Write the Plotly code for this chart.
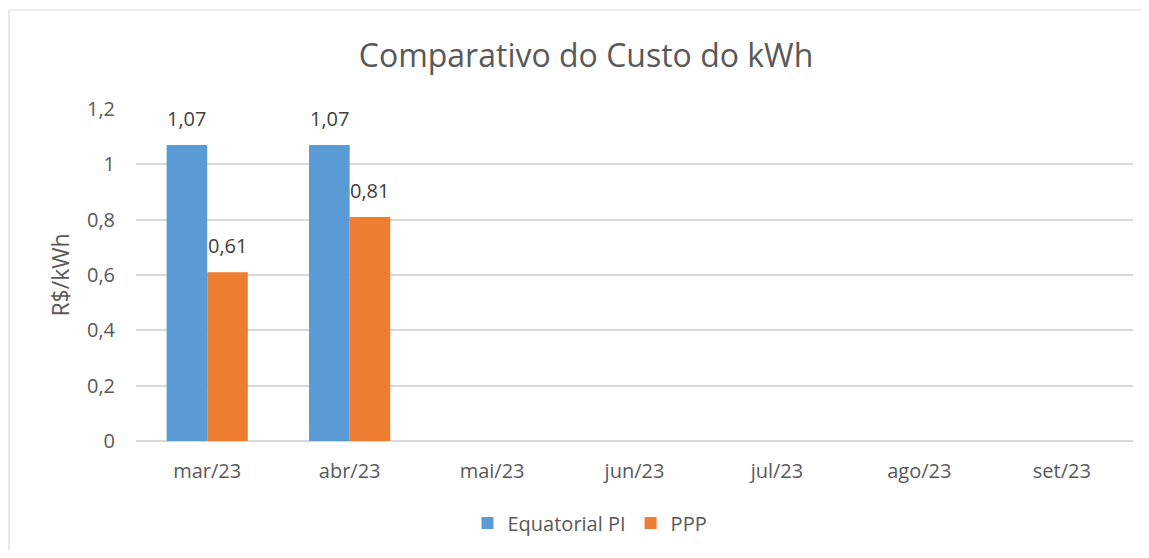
import plotly.graph_objects as go

categories = ["mar/23", "abr/23", "mai/23", "jun/23", "jul/23", "ago/23", "set/23"]
equatorial = [1.07, 1.07, None, None, None, None, None]
ppp = [0.61, 0.81, None, None, None, None, None]
series_names = ["Equatorial PI", "PPP"]
colors = ["#5B9BD5", "#ED7D31"]

def fmt(v):
    return f"{v:.2f}".replace(".", ",")

font = "Open Sans"
fig = go.Figure()
for name, vals, c in zip(series_names, [equatorial, ppp], colors):
    fig.add_trace(go.Bar(x=categories, y=vals, name=name, marker_color=c,
                         marker_line_width=0))

# data labels above bars (offset of each bar within its group)
bar_offsets = [-20.3, 20.3]
for vals, dx in zip([equatorial, ppp], bar_offsets):
    for cat, v in zip(categories, vals):
        if v is None:
            continue
        fig.add_annotation(x=cat, y=v, xref="x", yref="y", text=fmt(v),
                           showarrow=False, xshift=dx, yshift=11, yanchor="bottom",
                           font=dict(family=font, size=20, color="#404040"))

W, H = 1133, 542
ML, MR, MT, MB = 128, 8, 101, 109
fig.update_layout(
    width=W, height=H,
    paper_bgcolor="white", plot_bgcolor="white",
    margin=dict(l=ML, r=MR, t=MT, b=MB),
    barmode="group", bargap=0.43, bargroupgap=0,
    title=dict(text="Comparativo do Custo do kWh", x=578 / W, xref="container",
               xanchor="center", y=1 - 48 / H, yref="container", yanchor="middle",
               font=dict(family=font, size=32, color="#595959")),
    font=dict(family=font, color="#595959"),
    legend=dict(orientation="h", x=582 / W, xref="container", xanchor="center",
                y=1 - 515 / H, yref="container", yanchor="middle",
                font=dict(family=font, size=20, color="#595959"),
                itemwidth=30, traceorder="normal"),
    showlegend=True,
)
fig.update_xaxes(showgrid=False, showline=False, ticks="", automargin=False,
                 ticklabelstandoff=16,
                 tickfont=dict(family=font, size=20, color="#595959"))
fig.update_yaxes(range=[0, 1.2], tickvals=[0, 0.2, 0.4, 0.6, 0.8, 1.0, 1.2],
                 ticktext=["0", "0,2", "0,4", "0,6", "0,8", "1", "1,2"],
                 showgrid=True, gridcolor="#D9D9D9", gridwidth=1.5,
                 zeroline=True, zerolinecolor="#D9D9D9", zerolinewidth=1.5,
                 automargin=False, ticklabelstandoff=20,
                 tickfont=dict(family=font, size=20, color="#595959"),
                 title=dict(text="R$/kWh", font=dict(family=font, size=23, color="#595959"),
                            standoff=10))
plot_w, plot_h = W - ML - MR, H - MT - MB
bx0 = (1 - ML) / plot_w
by1 = 1 + (MT - 2) / plot_h
border = dict(color="#D9D9D9", width=1.2)
fig.add_shape(type="line", xref="paper", yref="paper", x0=bx0, x1=bx0, y0=-0.6, y1=by1,
              line=border, layer="below")
fig.add_shape(type="line", xref="paper", yref="paper", x0=bx0, x1=1.2, y0=by1, y1=by1,
              line=border, layer="below")
fig.write_html("out.html")
